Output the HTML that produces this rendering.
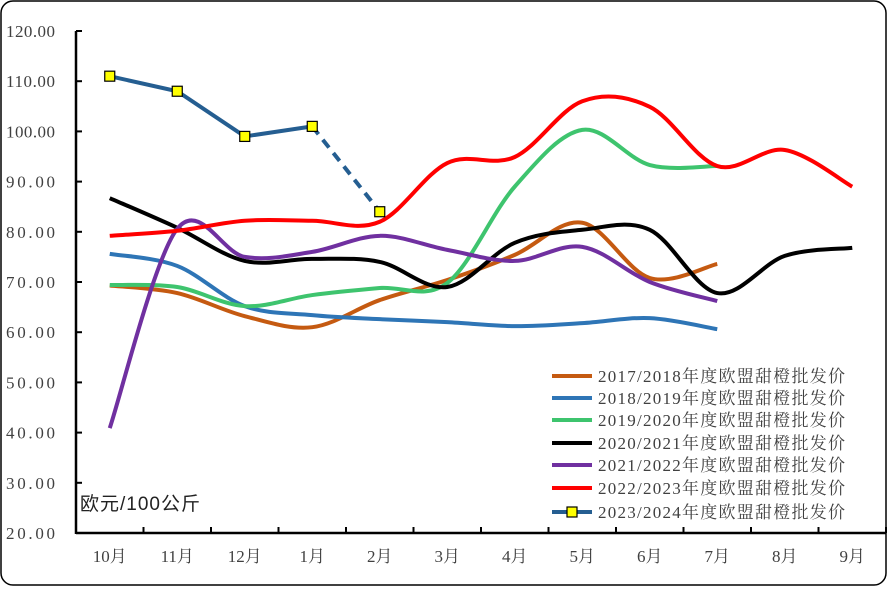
<!DOCTYPE html>
<html><head><meta charset="utf-8"><style>
body{margin:0;background:#fff;}
svg text{font-family:"Liberation Serif","Noto Serif CJK SC",serif;}
</style></head><body>
<svg width="888" height="587" xmlns="http://www.w3.org/2000/svg">
<rect x="1" y="1" width="885" height="584" rx="12" fill="#fff" stroke="#000" stroke-width="1.5"/>
<g id="axes"></g><g id="series"></g><g id="legend"></g>
<text x="80" y="510" font-size="19" textLength="120" fill="#222" style="font-family:'Liberation Sans','Noto Sans CJK SC',sans-serif">欧元/100公斤</text>
</svg>
<script>
const categories=["10月","11月","12月","1月","2月","3月","4月","5月","6月","7月","8月","9月"];
const yTicks=[20,30,40,50,60,70,80,90,100,110,120];
const names=["2017/2018年度欧盟甜橙批发价","2018/2019年度欧盟甜橙批发价","2019/2020年度欧盟甜橙批发价","2020/2021年度欧盟甜橙批发价","2021/2022年度欧盟甜橙批发价","2022/2023年度欧盟甜橙批发价","2023/2024年度欧盟甜橙批发价"];
const colors=["#C55A11","#2E75B6","#3EC46E","#000000","#7030A0","#FF0000","#255E91"];
const s1718=[69.3,67.8,63.2,61,66.4,70.4,75.4,81.8,70.8,73.6];
const s1819=[75.6,73.2,65.2,63.4,62.6,62,61.2,61.8,62.8,60.6];
const s1920=[69.4,69,65.2,67.4,68.8,69.8,89,100.3,93.3,93.1];
const s2021=[86.7,80.8,74.2,74.6,74,69,77.8,80.4,80.4,67.8,75.2,76.8];
const s2122=[40.9,80.6,75,76,79.2,76.4,74.2,77,70,66.2];
const s2223=[79.2,80.2,82.2,82.2,82,93.7,94.9,106,104.9,93.1,96.3,89];
const s2324=[111,108,99,101,84];
const allSeries=[s1718,s1819,s1920,s2021,s2122,s2223,s2324];
const NS="http://www.w3.org/2000/svg";
const X0=76,X1=886,Y0=533,Y1=31;
const bw=(X1-X0)/categories.length;
const xs=i=>X0+bw*(i+0.5);
const ys=v=>Y0-(v-20)/100*(Y0-Y1);
function mk(tag,attrs,parent){const e=document.createElementNS(NS,tag);for(const k in attrs)e.setAttribute(k,attrs[k]);parent.appendChild(e);return e;}
const axes=document.getElementById('axes');
yTicks.forEach(v=>{
 const t=mk('text',{x:55,y:ys(v)+6,'text-anchor':'end','font-size':17,textLength:49,fill:'#404040'},axes);
 t.textContent=v.toFixed(2);
 
 
 mk('line',{x1:X0,x2:X0+6,y1:ys(v),y2:ys(v),stroke:'#000','stroke-width':2},axes);
});
categories.forEach((c,i)=>{
 const t=mk('text',{x:xs(i),y:562,'text-anchor':'middle','font-size':17,fill:'#404040'},axes);
 t.textContent=c;
 
 
 mk('line',{x1:X0+bw*(i+1),x2:X0+bw*(i+1),y1:Y0,y2:Y0-6,stroke:'#000','stroke-width':2},axes);
});
mk('line',{x1:X0,x2:X0,y1:Y1,y2:Y0+1,stroke:'#000','stroke-width':2.5},axes);
mk('line',{x1:X0,x2:X1,y1:Y0,y2:Y0,stroke:'#000','stroke-width':2.5},axes);
function smooth(pts){
 let d=`M${pts[0][0]},${pts[0][1]}`;
 for(let i=0;i<pts.length-1;i++){
  const p0=pts[i-1]||pts[i],p1=pts[i],p2=pts[i+1],p3=pts[i+2]||p2;
  const c1=[p1[0]+(p2[0]-p0[0])/6,p1[1]+(p2[1]-p0[1])/6];
  const c2=[p2[0]-(p3[0]-p1[0])/6,p2[1]-(p3[1]-p1[1])/6];
  d+=` C${c1[0]},${c1[1]} ${c2[0]},${c2[1]} ${p2[0]},${p2[1]}`;
 }
 return d;
}
const sg=document.getElementById('series');
allSeries.forEach((s,k)=>{
 const pts=s.map((v,i)=>[xs(i),ys(v)]);
 if(k===6){
  const p=mk('path',{d:'M'+pts.slice(0,4).map(p=>p.join(',')).join(' L'),fill:'none',stroke:colors[k],'stroke-width':4},sg);
  
  
  const q=mk('path',{d:`M${pts[3].join(',')} L${pts[4].join(',')}`,fill:'none',stroke:colors[k],'stroke-width':4,'stroke-dasharray':'10,7'},sg);
  
  
  pts.forEach(p=>{
   const r=mk('rect',{x:p[0]-5,y:p[1]-5,width:10,height:10,fill:'#FFFF00',stroke:'#000','stroke-width':1.2},sg);
   
   
  });
 } else {
  const p=mk('path',{d:smooth(pts),fill:'none',stroke:colors[k],'stroke-width':4,'stroke-linejoin':'round'},sg);
  
  
 }
});
const lg=document.getElementById('legend');
const ly=[376,398,420,443,465,488,512];
names.forEach((n,k)=>{
 const g=mk('g',{},lg);
 
 
 mk('line',{x1:552,x2:592,y1:ly[k],y2:ly[k],stroke:colors[k],'stroke-width':4},g);
 if(k===6) mk('rect',{x:567,y:ly[k]-5,width:10,height:10,fill:'#FFFF00',stroke:'#000','stroke-width':1.2},g);
 const t=mk('text',{x:598,y:ly[k]+6,'font-size':17,textLength:247,fill:'#404040'},g);
 t.textContent=n;
});
</script>
</body></html>
